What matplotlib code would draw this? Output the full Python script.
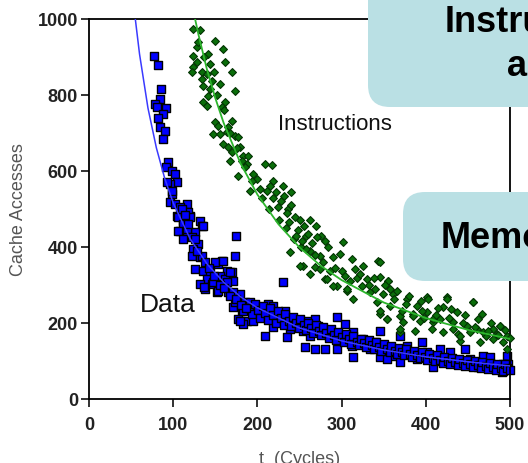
import numpy as np
import matplotlib
matplotlib.use('Agg')
import matplotlib.pyplot as plt
from matplotlib.patches import FancyBboxPatch
from matplotlib.transforms import IdentityTransform

plt.rcParams['font.family'] = ['Liberation Sans', 'DejaVu Sans']

# Data cache accesses (blue squares)
data_points = [
    (77, 903), (82, 879), (85, 816), (84, 789), (78, 776), (81, 768), (91, 766),
    (88, 750), (82, 739), (84, 716), (90, 705), (88, 684), (94, 624), (92, 611),
    (98, 600), (102, 592), (104, 571), (96, 566), (98, 539), (96, 518), (102, 513),
    (116, 513), (108, 505), (120, 482), (104, 482), (112, 468), (132, 468),
    (134, 455), (108, 442), (116, 439), (126, 439), (93, 571), (98, 547),
    (118, 492), (106, 479), (120, 479), (135, 455), (112, 461), (106, 442),
    (116, 447), (112, 421), (122, 426), (129, 408), (124, 395), (122, 376),
    (132, 374), (175, 429), (173, 376), (158, 363), (153, 355), (126, 342),
    (135, 337), (144, 334), (164, 337), (170, 334), (156, 324), (140, 316),
    (132, 303), (146, 303), (162, 316), (171, 311), (138, 289), (152, 282),
    (165, 282), (179, 276), (176, 258), (185, 255), (171, 242), (182, 232),
    (177, 211), (188, 205), (183, 197), (134, 376), (150, 360), (159, 363),
    (167, 334), (147, 308), (164, 308), (136, 295), (153, 284), (171, 282),
    (230, 308), (173, 255), (191, 255), (213, 250), (219, 245), (233, 232),
    (183, 232), (199, 229), (211, 218), (179, 205), (195, 205), (227, 205),
    (247, 205), (259, 205), (268, 211), (294, 216), (304, 197), (219, 189),
    (239, 184), (254, 179), (272, 192), (283, 176), (262, 166), (209, 166),
    (235, 163), (257, 137), (268, 132), (280, 132), (294, 132), (298, 158),
    (314, 176), (312, 139), (326, 158), (340, 150), (346, 179), (334, 132),
    (354, 132), (361, 113), (369, 166), (378, 139), (385, 124), (395, 150),
    (401, 124), (409, 105), (417, 132), (429, 124), (425, 97), (437, 100),
    (447, 132), (452, 105), (462, 84), (468, 113), (476, 111), (480, 87),
    (490, 71), (496, 113), (498, 92), (492, 92), (473, 92), (444, 92), (409, 84),
    (369, 97), (346, 111), (314, 111), (354, 105), (390, 105),
    (190, 240), (193, 224), (197, 251), (201, 233), (203, 214), (207, 246),
    (209, 227), (213, 209), (215, 239), (218, 221), (222, 201), (224, 231),
    (228, 214), (231, 196), (233, 223), (237, 204), (240, 191), (242, 216),
    (246, 199), (249, 186), (251, 211), (255, 194), (258, 181), (260, 201),
    (264, 187), (266, 173), (270, 196), (273, 179), (276, 169), (278, 189),
    (282, 174), (285, 161), (287, 183), (291, 169), (293, 156), (296, 177),
    (300, 163), (303, 149), (305, 171), (309, 157), (311, 146), (314, 166),
    (318, 149), (321, 141), (323, 159), (327, 147), (329, 136), (332, 156),
    (336, 141), (339, 131), (341, 149), (345, 137), (347, 126), (350, 146),
    (354, 132), (357, 123), (359, 139), (363, 127), (366, 119), (368, 135),
    (372, 123), (374, 115), (377, 131), (381, 119), (384, 111), (386, 127),
    (390, 115), (393, 107), (395, 123), (399, 111), (402, 103), (404, 119),
    (408, 107), (411, 99), (413, 115), (417, 103), (420, 96), (422, 111),
    (426, 99), (429, 93), (431, 109), (435, 97), (438, 89), (440, 105),
    (444, 94), (447, 87), (449, 103), (453, 91), (456, 84), (458, 99),
    (462, 89), (465, 81), (467, 97), (471, 86), (474, 79), (476, 95),
    (480, 84), (483, 77), (485, 93), (489, 82), (492, 75), (494, 91),
    (497, 81), (500, 76),
    (110, 500), (114, 485), (118, 460), (126, 420), (128, 390), (138, 360),
    (142, 345), (148, 325), (155, 300), (160, 292), (168, 270), (175, 262),
    (180, 248), (186, 240),
]

# Instruction cache accesses (green diamonds)
instr_points = [
    (124, 974), (132, 971), (150, 942), (159, 921), (128, 926), (124, 903),
    (141, 908), (128, 887), (162, 887), (144, 882), (124, 874), (122, 861),
    (170, 861), (134, 861), (140, 855), (134, 842), (146, 837), (156, 829),
    (135, 824), (144, 816), (173, 811), (141, 797), (162, 782), (135, 782),
    (140, 771), (158, 768), (170, 732), (150, 729), (153, 718), (165, 716),
    (147, 697), (156, 697), (164, 703), (173, 692), (177, 689), (159, 671),
    (165, 663), (179, 663), (170, 650), (183, 639), (189, 639), (167, 626),
    (182, 626), (188, 618), (209, 618), (217, 616), (177, 587), (195, 592),
    (199, 579), (219, 574), (215, 561), (191, 547), (203, 553), (211, 547),
    (222, 545), (228, 520), (232, 535), (236, 500), (240, 510), (225, 505),
    (245, 480), (250, 470), (238, 465), (255, 455), (248, 445), (258, 430),
    (235, 490), (262, 470), (270, 455), (244, 420), (252, 400), (265, 410),
    (230, 560), (218, 530), (240, 545), (275, 430), (280, 415),
    (260, 434), (271, 426), (253, 416), (284, 400), (302, 413), (262, 389),
    (274, 376), (290, 374), (298, 382), (312, 368), (343, 363), (254, 350),
    (268, 347), (286, 337), (300, 337), (316, 342), (330, 316), (346, 321),
    (355, 311), (280, 316), (294, 297), (310, 311), (324, 297), (306, 284),
    (334, 282), (349, 276), (361, 276), (378, 263), (401, 268), (425, 268),
    (456, 255), (342, 255), (357, 245), (390, 245), (421, 242), (437, 229),
    (467, 224), (346, 224), (369, 218), (385, 224), (401, 229), (417, 211),
    (354, 211), (373, 203), (393, 205), (409, 203), (432, 203), (449, 192),
    (488, 192), (480, 184), (461, 184), (387, 179), (369, 176), (420, 176),
    (438, 171), (472, 166), (496, 166), (441, 153), (464, 150), (492, 150),
    (407, 184), (239, 387), (251, 350), (262, 329), (274, 342), (283, 316),
    (290, 297), (306, 289), (314, 263), (346, 361), (355, 311), (346, 232),
    (354, 211), (369, 184), (403, 263), (425, 263), (456, 255), (385, 218),
    (409, 211), (432, 184), (441, 166), (468, 176), (488, 192), (480, 158),
    (496, 132),
    (130, 940), (137, 900), (148, 860), (152, 800), (160, 760), (168, 700),
    (176, 660), (185, 610), (193, 575), (206, 530), (214, 500), (226, 470),
    (234, 450), (246, 430), (258, 395), (268, 380), (278, 360), (292, 345),
    (304, 325), (318, 318), (332, 300), (340, 290), (362, 262), (376, 250),
    (396, 232), (412, 222), (428, 214), (444, 200), (458, 190), (474, 180),
    (484, 172), (500, 160),
    (322, 330), (338, 318), (352, 300), (366, 285), (380, 270), (394, 258),
    (414, 240), (430, 236), (446, 222), (462, 210), (478, 200), (494, 182),
    (372, 232), (398, 214), (452, 176), (486, 168), (358, 290), (326, 350),
]

# fitted curves
data_fit_t = [55, 60, 70, 80, 90, 100, 120, 140, 160, 180, 200, 250, 300, 350, 400, 450, 500]
data_fit_v = [1000, 908, 766, 661, 580, 516, 422, 356, 307, 269, 240, 187, 153, 129, 111, 98, 87]
instr_fit_t = [126, 130, 140, 150, 160, 180, 200, 225, 250, 275, 300, 350, 400, 450, 500]
instr_fit_v = [1000, 959, 868, 792, 726, 620, 538, 460, 399, 351, 313, 254, 213, 182, 158]

x_ticks = [0, 100, 200, 300, 400, 500]
y_ticks = [0, 200, 400, 600, 800, 1000]

W, H = 528, 464
fig = plt.figure(figsize=(W / 100, H / 100), dpi=100)
ax = fig.add_axes([89 / W, 1 - 400 / H, 421 / W, 380 / H])

d = np.array(data_points)
g = np.array(instr_points)
ax.scatter(d[:, 0], d[:, 1], marker='s', s=36, c='#0000ff',
           edgecolors='black', linewidths=1.0, zorder=2, clip_on=False)
ax.scatter(g[:, 0], g[:, 1], marker='D', s=16, c='#0a6e0a',
           edgecolors='#033303', linewidths=0.8, zorder=3, clip_on=False)
ax.plot(data_fit_t, data_fit_v, color='#3a3aff', lw=1.1, zorder=4)
ax.plot(instr_fit_t, instr_fit_v, color='#2db52d', lw=1.3, zorder=4)

ax.set_xlim(0, 500)
ax.set_ylim(0, 1000)
ax.set_xticks(x_ticks)
ax.set_yticks(y_ticks)
for sp in ax.spines.values():
    sp.set_linewidth(1.3)
ax.tick_params(direction='out', length=6, width=1.3, pad=2, labelsize=13,
               colors='#222222')
for lab in ax.get_xticklabels() + ax.get_yticklabels():
    lab.set_fontweight('bold')
ax.tick_params(axis='x', pad=6)

ax.set_ylabel('Cache Accesses', fontsize=13, color='#555555')
ax.yaxis.set_label_coords(-0.148, 0.5)
ax.set_xlabel('t  (Cycles)', fontsize=13, color='#555555')
ax.xaxis.set_label_coords(0.5, -0.135)

ax.text(61, 250, 'Data', fontsize=19, color='#111111', va='center', ha='left')
ax.text(224, 725, 'Instructions', fontsize=16, color='#111111', va='center', ha='left')

# callout boxes clipped by the picture edge
box_color = '#bae0e4'
for (x0, y0, x1, y1) in [(368, -40, 600, 108), (403, 193, 600, 282)]:
    fig.add_artist(FancyBboxPatch((x0, H - y1), x1 - x0, y1 - y0,
                                  boxstyle='round,pad=0,rounding_size=22',
                                  transform=IdentityTransform(),
                                  facecolor=box_color, edgecolor='none', zorder=10))
fig.text(445 / W, 1 - 22 / H, 'Instructions', fontsize=26, fontweight='bold',
         va='center', ha='left', zorder=11)
fig.text(507 / W, 1 - 66 / H, 'and Data', fontsize=26, fontweight='bold',
         va='center', ha='left', zorder=11)
fig.text(441 / W, 1 - 238 / H, 'Memory', fontsize=26, fontweight='bold',
         va='center', ha='left', zorder=11)

fig.savefig('out.png', dpi=100)
